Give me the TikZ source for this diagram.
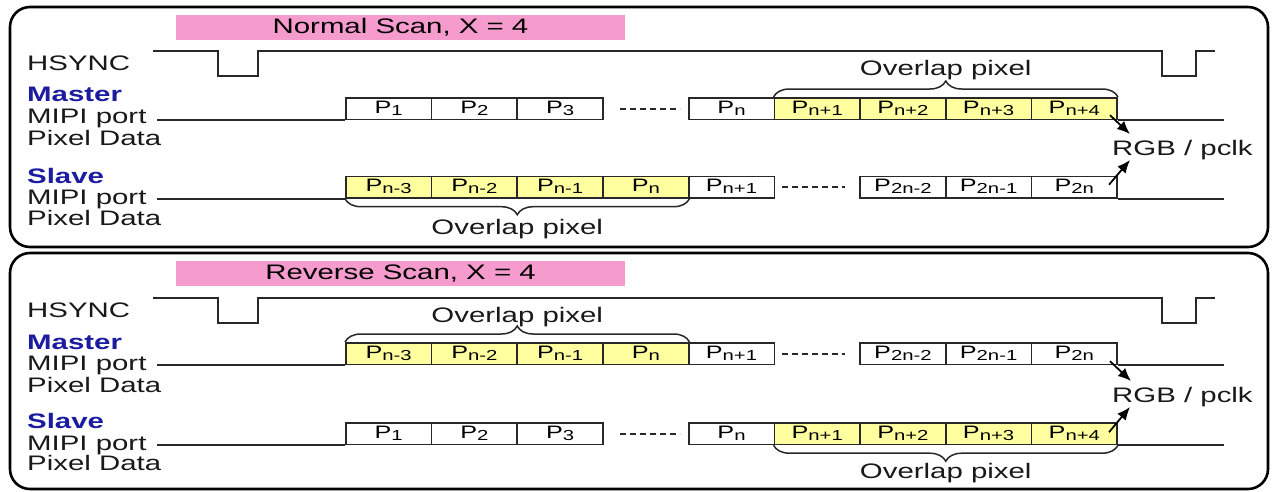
\documentclass[tikz,border=0pt]{standalone}
\usepackage{fontspec}
\setmainfont{Liberation Sans}[FakeStretch=1.4]
\usetikzlibrary{decorations.pathreplacing,arrows.meta,calc}
\definecolor{mblue}{RGB}{28,28,160}
\definecolor{pinkb}{RGB}{245,155,205}
\definecolor{ylw}{RGB}{255,255,160}
\definecolor{ln}{RGB}{40,40,40}
\newcommand\pslot[5]{\node[#1] (#2) at ({345+85.7*#3},#4) {#5};}
\newcommand\Ps[1]{P\raisebox{-1.8pt}{\fontsize{14.5}{15}\selectfont #1}}
\begin{document}
\begin{tikzpicture}[x=1pt,y=-1pt,
 lbl/.style={anchor=base west, inner sep=0pt, font=\fontsize{21}{25}\selectfont, text=black!90},
 role/.style={anchor=base west, inner sep=0pt, font=\fontsize{21}{25}\selectfont\bfseries, text=mblue},
 pbox/.style={draw=ln, line width=1.7pt, minimum width=85.7pt, minimum height=21.5pt, inner sep=0pt, text height=12.5pt, text depth=3pt, font=\fontsize{18}{20}\selectfont, fill=white, anchor=north west},
 ybox/.style={pbox, fill=ylw},
 sig/.style={draw=ln, line width=1.8pt},
 frame/.style={draw=black, line width=2.6pt, rounded corners=20pt},
 banner/.style={fill=pinkb, minimum width=449pt, minimum height=25pt, inner sep=0pt, text height=15pt, text depth=4pt, font=\fontsize{21}{25}\selectfont},
 brc/.style={draw=ln, line width=1.5pt, decorate, decoration={brace, amplitude=16pt}},
 olbl/.style={anchor=base, inner sep=0pt, font=\fontsize{21}{25}\selectfont, text=black!90},
 arr/.style={draw=black, line width=1.8pt, -{Latex[length=13pt,width=11pt]}},
 dots/.style={draw=ln, line width=2.2pt, dash pattern=on 6pt off 4pt},
]
\useasboundingbox (0,0) rectangle (1273,491);
\fill[white] (0,0) rectangle (1273,491);

% ---------------- frames
\draw[frame] (10,7) rectangle (1268,247);
\draw[frame] (10,253) rectangle (1268,489);

% ---------------- banners
\node[banner] (nban) at (400.5,27.5) {Normal Scan, X = 4};
\node[banner] (rban) at (400.5,273.5) {Reverse Scan, X = 4};

% ---------------- left labels (normal)
\node[lbl]  (nhs)  at (27,70.7) {HSYNC};
\node[role] (nmr)  at (27,101) {Master};
\node[lbl]  (nmp)  at (27,123) {MIPI port};
\node[lbl]  (nmd)  at (27,145) {Pixel Data};
\node[role] (nsr)  at (27,183) {Slave};
\node[lbl]  (nsp)  at (27,204) {MIPI port};
\node[lbl]  (nsd)  at (27,225) {Pixel Data};
% ---------------- left labels (reverse)
\node[lbl]  (rhs)  at (27,317) {HSYNC};
\node[role] (rmr)  at (27,349) {Master};
\node[lbl]  (rmp)  at (27,370) {MIPI port};
\node[lbl]  (rmd)  at (27,392) {Pixel Data};
\node[role] (rsr)  at (27,428.5) {Slave};
\node[lbl]  (rsp)  at (27,450) {MIPI port};
\node[lbl]  (rsd)  at (27,470) {Pixel Data};

% ---------------- HSYNC waveforms
\draw[sig] (153,51) -- (218,51) -- (218,76) -- (258,76) -- (258,51) -- (1162,51) -- (1162,76) -- (1196,76) -- (1196,51) -- (1215,51);
\draw[sig] (153,298) -- (218,298) -- (218,323) -- (258,323) -- (258,298) -- (1162,298) -- (1162,323) -- (1196,323) -- (1196,298) -- (1215,298);

% ---------------- line start points
\coordinate (nmL) at (157,118.5);
\coordinate (nsL) at (157,197);
\coordinate (rmL) at (157,363.5);
\coordinate (rsL) at (157,443.5);

% ---------------- Normal scan, master row
\pslot{pbox}{nm0}{0}{97}{\Ps{1}}
\pslot{pbox}{nm1}{1}{97}{\Ps{2}}
\pslot{pbox}{nm2}{2}{97}{\Ps{3}}
\pslot{pbox}{nm4}{4}{97}{\Ps{n}}
\pslot{ybox}{nm5}{5}{97}{\Ps{n+1}}
\pslot{ybox}{nm6}{6}{97}{\Ps{n+2}}
\pslot{ybox}{nm7}{7}{97}{\Ps{n+3}}
\pslot{ybox}{nm8}{8}{97}{\Ps{n+4}}
% ---------------- Normal scan, slave row
\pslot{ybox}{ns0}{0}{175.5}{\Ps{n-3}}
\pslot{ybox}{ns1}{1}{175.5}{\Ps{n-2}}
\pslot{ybox}{ns2}{2}{175.5}{\Ps{n-1}}
\pslot{ybox}{ns3}{3}{175.5}{\Ps{n}}
\pslot{pbox}{ns4}{4}{175.5}{\Ps{n+1}}
\pslot{pbox}{ns6}{6}{175.5}{\Ps{2n-2}}
\pslot{pbox}{ns7}{7}{175.5}{\Ps{2n-1}}
\pslot{pbox}{ns8}{8}{175.5}{\Ps{2n}}
% ---------------- Reverse scan, master row
\pslot{ybox}{rm0}{0}{342}{\Ps{n-3}}
\pslot{ybox}{rm1}{1}{342}{\Ps{n-2}}
\pslot{ybox}{rm2}{2}{342}{\Ps{n-1}}
\pslot{ybox}{rm3}{3}{342}{\Ps{n}}
\pslot{pbox}{rm4}{4}{342}{\Ps{n+1}}
\pslot{pbox}{rm6}{6}{342}{\Ps{2n-2}}
\pslot{pbox}{rm7}{7}{342}{\Ps{2n-1}}
\pslot{pbox}{rm8}{8}{342}{\Ps{2n}}
% ---------------- Reverse scan, slave row
\pslot{pbox}{rs0}{0}{422}{\Ps{1}}
\pslot{pbox}{rs1}{1}{422}{\Ps{2}}
\pslot{pbox}{rs2}{2}{422}{\Ps{3}}
\pslot{pbox}{rs4}{4}{422}{\Ps{n}}
\pslot{ybox}{rs5}{5}{422}{\Ps{n+1}}
\pslot{ybox}{rs6}{6}{422}{\Ps{n+2}}
\pslot{ybox}{rs7}{7}{422}{\Ps{n+3}}
\pslot{ybox}{rs8}{8}{422}{\Ps{n+4}}

% ---------------- data lines
\draw[sig] (nmL |- nm0.south) -- (nm0.south west);
\draw[sig] (nm8.south east) -- ++(106,0);
\draw[sig] (nsL |- ns0.south) -- (ns0.south west);
\draw[sig] (ns8.south east) -- ++(106,0);
\draw[sig] (rmL |- rm0.south) -- (rm0.south west);
\draw[sig] (rm8.south east) -- ++(106,0);
\draw[sig] (rsL |- rs0.south) -- (rs0.south west);
\draw[sig] (rs8.south east) -- ++(106,0);

% ---------------- dashes
\draw[dots] ([xshift=16pt]nm2.east) -- ([xshift=-8pt]nm4.west);
\draw[dots] ([xshift=7pt]ns4.east) -- ([xshift=-14pt]ns6.west);
\draw[dots] ([xshift=7pt]rm4.east) -- ([xshift=-14pt]rm6.west);
\draw[dots] ([xshift=16pt]rs2.east) -- ([xshift=-8pt]rs4.west);

% ---------------- braces and labels
\draw[brc] (nm5.north west) -- (nm8.north east);
\node[olbl] (nol1) at ($(nm5.north west)!0.5!(nm8.north east)+(0,-22)$) {Overlap pixel};
\draw[brc] (ns3.south east) -- (ns0.south west);
\node[olbl] (nol2) at ($(ns0.south west)!0.5!(ns3.south east)+(0,35.5)$) {Overlap pixel};
\draw[brc] (rm0.north west) -- (rm3.north east);
\node[olbl] (rol1) at ($(rm0.north west)!0.5!(rm3.north east)+(0,-20)$) {Overlap pixel};
\draw[brc] (rs8.south east) -- (rs5.south west);
\node[olbl] (rol2) at ($(rs5.south west)!0.5!(rs8.south east)+(0,33.5)$) {Overlap pixel};

% ---------------- RGB / pclk
\node[lbl] (nrgb) at (1112,155) {RGB / pclk};
\node[lbl] (rrgb) at (1112,402) {RGB / pclk};
\coordinate (nrgbA) at ([shift={(18,-21)}]nrgb.base west);
\coordinate (nrgbB) at ([shift={(18,5)}]nrgb.base west);
\coordinate (rrgbA) at ([shift={(19,-21)}]rrgb.base west);
\coordinate (rrgbB) at ([shift={(18,5)}]rrgb.base west);
\draw[arr] ([shift={(-8,-5)}]nm8.south east) -- (nrgbA);
\draw[arr] ([shift={(-9,-14)}]ns8.south east) -- (nrgbB);
\draw[arr] ([shift={(-8,-4)}]rm8.south east) -- (rrgbA);
\draw[arr] ([shift={(-9,-13)}]rs8.south east) -- (rrgbB);
\end{tikzpicture}
\end{document}
